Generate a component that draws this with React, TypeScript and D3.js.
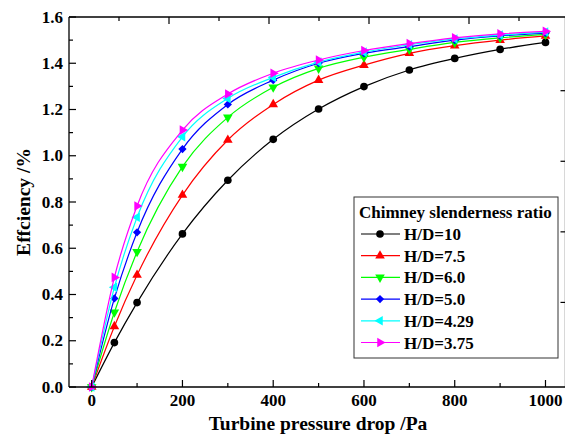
import React from "react";
import * as d3 from "d3";

const pressure = [0, 50, 100, 200, 300, 400, 500, 600, 700, 800, 900, 1000];
const hd10 = [0, 0.192, 0.365, 0.662, 0.894, 1.071, 1.202, 1.299, 1.371, 1.421, 1.46, 1.49];
const hd75 = [0, 0.262, 0.484, 0.83, 1.068, 1.222, 1.327, 1.392, 1.443, 1.476, 1.5, 1.518];
const hd60 = [0, 0.323, 0.585, 0.953, 1.166, 1.296, 1.378, 1.426, 1.46, 1.49, 1.51, 1.525];
const hd50 = [0, 0.383, 0.669, 1.029, 1.222, 1.327, 1.4, 1.443, 1.472, 1.5, 1.518, 1.53];
const hd429 = [0, 0.431, 0.734, 1.082, 1.248, 1.339, 1.405, 1.448, 1.48, 1.505, 1.522, 1.535];
const hd375 = [0, 0.474, 0.783, 1.111, 1.267, 1.357, 1.414, 1.455, 1.485, 1.51, 1.527, 1.538];

const seriesNames = ["H/D=10", "H/D=7.5", "H/D=6.0", "H/D=5.0", "H/D=4.29", "H/D=3.75"];
const seriesValues = [hd10, hd75, hd60, hd50, hd429, hd375];
const seriesColors = ["#000000", "#ff0000", "#00ff00", "#0000ff", "#00ffff", "#ff00ff"];
const seriesMarkers = ["circle", "up", "down", "diamond", "left", "right"];

const xTicks = [0, 200, 400, 600, 800, 1000];
const xMinorTicks = [100, 300, 500, 700, 900];
const yTicks = [0, 0.2, 0.4, 0.6, 0.8, 1.0, 1.2, 1.4, 1.6];
const yMinorTicks = [0.1, 0.3, 0.5, 0.7, 0.9, 1.1, 1.3, 1.5];

const legendTitle = "Chimney slenderness ratio";
const xTitle = "Turbine pressure drop /Pa";
const yTitle = "Effciency /%";

const W = 565;
const H = 434;
const left = 69;
const right = 565.5;
const top = 17;
const bottom = 387;

const FONT = "'Liberation Serif', 'Times New Roman', serif";

function markerPath(kind: string): { d: string; rot: number } {
  if (kind === "circle") return { d: d3.symbol(d3.symbolCircle, 46)() as string, rot: 0 };
  if (kind === "diamond") return { d: d3.symbol(d3.symbolSquare, 34)() as string, rot: 45 };
  const d = d3.symbol(d3.symbolTriangle, 40)() as string;
  const rot = kind === "up" ? 0 : kind === "down" ? 180 : kind === "left" ? -90 : 90;
  return { d, rot };
}

export default function App() {
  const x = d3.scaleLinear().domain([-50, 1043]).range([left, right - 0.5]);
  const y = d3.scaleLinear().domain([0, 1.6]).range([bottom, top]);
  // secondary (top / right) tick scales as drawn in the reference
  const xTop = d3.scaleLinear().domain([0, 9.92]).range([left, right - 0.5]);
  const yRight = d3.scaleLinear().domain([0, 4]).range([90.7, 373]);

  const line = d3
    .line<number>()
    .x((_, i) => x(pressure[i]))
    .y((v) => y(v))
    .curve(d3.curveMonotoneX);

  const legX = 354;
  const legY = 197;
  const legW = 204;
  const legH = 161;
  const rowY0 = 234;
  const rowStep = 21.7;

  return (
    <svg
      width={W}
      height={H}
      style={{ position: "absolute", left: 0, top: 0, background: "#fff" }}
      fontFamily={FONT}
    >
      <rect x={0} y={0} width={W} height={H} fill="#fff" />
      {/* series */}
      {seriesValues.map((vals, si) => (
        <g key={si}>
          <path d={line(vals) as string} fill="none" stroke={seriesColors[si]} strokeWidth={1.2} />
          {vals.map((v, i) => {
            const m = markerPath(seriesMarkers[si]);
            return (
              <path
                key={i}
                d={m.d}
                transform={`translate(${x(pressure[i])},${y(v)}) rotate(${m.rot})`}
                fill={seriesColors[si]}
              />
            );
          })}
        </g>
      ))}

      {/* frame */}
      <line x1={left} x2={left} y1={top} y2={bottom} stroke="#000" strokeWidth={1.3} />
      <line x1={left} x2={W} y1={top} y2={top} stroke="#000" strokeWidth={1.3} />
      <line x1={left} x2={W} y1={bottom} y2={bottom} stroke="#000" strokeWidth={1.3} />
      <line x1={right} x2={right} y1={top} y2={bottom} stroke="#000" strokeWidth={1.3} />

      {/* bottom ticks */}
      {xTicks.map((t) => (
        <g key={t}>
          <line x1={x(t)} x2={x(t)} y1={bottom} y2={bottom - 7} stroke="#000" strokeWidth={1.2} />
          <text x={x(t)} y={406} textAnchor="middle" fontSize={17} fontWeight="bold">
            {t}
          </text>
        </g>
      ))}
      {xMinorTicks.map((t) => (
        <line key={t} x1={x(t)} x2={x(t)} y1={bottom} y2={bottom - 4} stroke="#000" strokeWidth={1.2} />
      ))}

      {/* top ticks */}
      {d3.range(1, 10).map((t) => (
        <line
          key={t}
          x1={xTop(t)}
          x2={xTop(t)}
          y1={top}
          y2={top + (t % 2 === 0 ? 7 : 4)}
          stroke="#000"
          strokeWidth={1.2}
        />
      ))}

      {/* left ticks */}
      {yTicks.map((t) => (
        <g key={t}>
          <line x1={left} x2={left + 7} y1={y(t)} y2={y(t)} stroke="#000" strokeWidth={1.2} />
          <text x={63} y={y(t) + 5.5} textAnchor="end" fontSize={17} fontWeight="bold">
            {t.toFixed(1)}
          </text>
        </g>
      ))}
      {yMinorTicks.map((t) => (
        <line key={t} x1={left} x2={left + 4} y1={y(t)} y2={y(t)} stroke="#000" strokeWidth={1.2} />
      ))}

      {/* right ticks */}
      {d3.range(0, 4).map((t) => (
        <line key={t} x1={right - 5} x2={right} y1={yRight(t)} y2={yRight(t)} stroke="#000" strokeWidth={1.2} />
      ))}

      {/* axis titles */}
      <text x={318} y={430} textAnchor="middle" fontSize={19.5} fontWeight="bold">
        {xTitle}
      </text>
      <text
        transform={`translate(30,${(top + bottom) / 2}) rotate(-90)`}
        textAnchor="middle"
        fontSize={19.5}
        fontWeight="bold"
      >
        {yTitle}
      </text>

      {/* legend */}
      <rect x={legX} y={legY} width={legW} height={legH} fill="#fff" stroke="#333" strokeWidth={1} />
      <text x={359} y={217.5} fontSize={17} fontWeight="bold">
        {legendTitle}
      </text>
      {seriesNames.map((name, si) => {
        const ry = rowY0 + si * rowStep;
        const m = markerPath(seriesMarkers[si]);
        return (
          <g key={name}>
            <line x1={361} x2={400} y1={ry} y2={ry} stroke={seriesColors[si]} strokeWidth={1.2} />
            <path d={m.d} transform={`translate(380,${ry}) rotate(${m.rot})`} fill={seriesColors[si]} />
            <text x={404} y={ry + 6} fontSize={17} fontWeight="bold">
              {name}
            </text>
          </g>
        );
      })}
    </svg>
  );
}
